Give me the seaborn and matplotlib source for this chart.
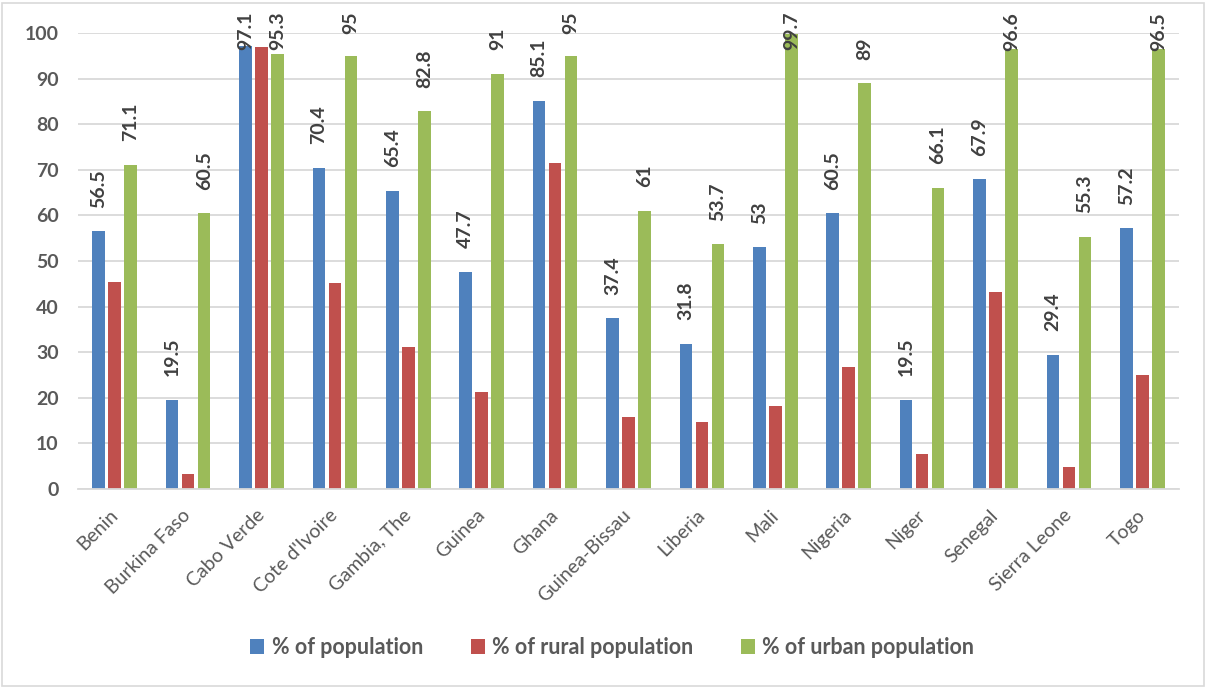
import matplotlib
matplotlib.use("Agg")
import matplotlib.pyplot as plt
from matplotlib.patches import Patch, Rectangle
import seaborn as sns
import pandas as pd

countries = ["Benin", "Burkina Faso", "Cabo Verde", "Cote d'Ivoire", "Gambia, The",
             "Guinea", "Ghana", "Guinea-Bissau", "Liberia", "Mali", "Nigeria",
             "Niger", "Senegal", "Sierra Leone", "Togo"]
series_names = ["% of population", "% of rural population", "% of urban population"]
total_pct = [56.5, 19.5, 97.1, 70.4, 65.4, 47.7, 85.1, 37.4, 31.8, 53, 60.5, 19.5, 67.9, 29.4, 57.2]
rural_pct = [45.3, 3.3, 96.9, 45.2, 31.1, 21.2, 71.6, 15.8, 14.8, 18.1, 26.8, 7.6, 43.3, 4.8, 24.9]
urban_pct = [71.1, 60.5, 95.3, 95, 82.8, 91, 95, 61, 53.7, 99.7, 89, 66.1, 96.6, 55.3, 96.5]
colors = ["#4F81BD", "#C0504D", "#9BBB59"]

df = pd.DataFrame({
    "country": countries * 3,
    "series": [s for s in series_names for _ in countries],
    "value": total_pct + rural_pct + urban_pct,
})

sns.set_theme(style="white")
plt.rcParams["font.family"] = ["Lato", "DejaVu Sans"]

DPI = 100
fig = plt.figure(figsize=(12.08, 6.88), dpi=DPI)
ax = fig.add_axes([0.0646, 0.2892, 0.9114, 0.6628])

sns.barplot(data=df, x="country", y="value", hue="series", hue_order=series_names,
            palette=colors, width=0.654, gap=0.22, saturation=1, legend=False,
            edgecolor="none", ax=ax)

ax.set_ylim(0, 100)
ax.set_xlim(-0.5, len(countries) - 0.5)
ax.set_yticks(range(0, 101, 10))
ax.yaxis.grid(True, color="#D9D9D9", linewidth=1.3)
ax.set_axisbelow(True)
for side in ["left", "right", "top"]:
    ax.spines[side].set_visible(False)
ax.spines["bottom"].set_color("#D9D9D9")
ax.spines["bottom"].set_linewidth(1.3)
ax.tick_params(axis="both", length=0)
ax.tick_params(axis="y", pad=14)
ax.set_xlabel("")
ax.set_ylabel("")

for lab in ax.get_yticklabels():
    lab.set_fontsize(14)
    lab.set_fontweight("bold")
    lab.set_color("#595959")

ax.set_xticks(range(len(countries)))
ax.set_xticklabels(countries, rotation=45, ha="right", va="center",
                   rotation_mode="anchor", fontsize=14, color="#595959")
ax.tick_params(axis="x", pad=17)

# value labels on the total and urban bars
PAD_PT = 17
label_style = dict(rotation=90, fontsize=14, fontweight="bold", color="#404040")
pairs = []
for idx in (0, 2):
    cont = ax.containers[idx]
    anns = ax.bar_label(cont, fmt="%g", padding=PAD_PT, **label_style)
    pairs.extend(zip(cont.patches, anns))

# labels that would run past the top edge are pinned just below it
fig.canvas.draw()
renderer = fig.canvas.get_renderer()
fig_h = fig.get_figheight() * DPI
top_limit = fig_h - 12
for rect, ann in pairs:
    length = ann.get_window_extent(renderer).height
    xc = rect.get_x() + rect.get_width() / 2
    bar_top = ax.transData.transform((xc, rect.get_height()))[1]
    if bar_top + PAD_PT * DPI / 72.0 + length > top_limit:
        text = ann.get_text()
        ann.remove()
        ax.annotate(text, xy=(xc, top_limit), xycoords=("data", "figure pixels"),
                    ha="center", va="top", annotation_clip=False, **label_style)

handles = [Patch(facecolor=c, edgecolor="none") for c in colors]
fig.legend(handles, series_names, loc="center", bbox_to_anchor=(0.507, 0.059),
           ncol=3, frameon=False, handlelength=0.65, handleheight=0.65,
           handletextpad=0.35, columnspacing=2.2,
           prop={"size": 15.5, "weight": "bold"}, labelcolor="#595959")

fig.patches.append(Rectangle((0.002, 0.003), 0.995, 0.993, transform=fig.transFigure,
                             fill=False, edgecolor="#D9D9D9", linewidth=1.2))

fig.savefig("out.png", dpi=DPI, facecolor="white")
